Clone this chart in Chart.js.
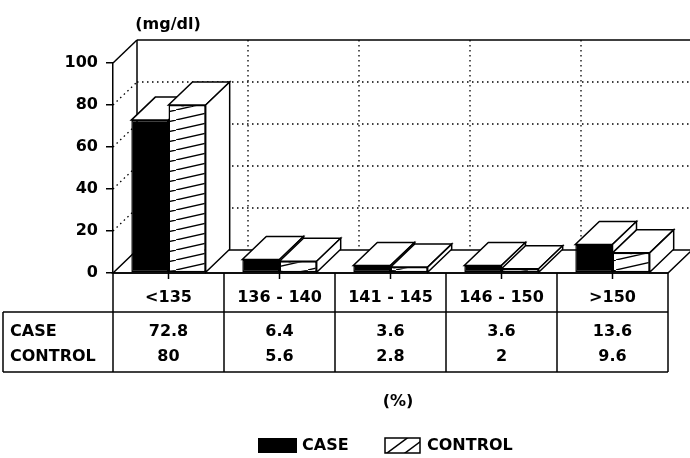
<!DOCTYPE html>
<html>
<head>
<meta charset="utf-8">
<script src="https://cdn.jsdelivr.net/npm/chart.js@4.4.0/dist/chart.umd.min.js"></script>
<style>
  html, body { margin: 0; padding: 0; background: #fff; }
  canvas { display: block; }
</style>
</head>
<body>
<canvas id="myChart" width="690" height="458"></canvas>
<script>
// Data
const categories = ['<135', '136 - 140', '141 - 145', '146 - 150', '>150'];
const caseValues = [72.8, 6.4, 3.6, 3.6, 13.6];
const controlValues = [80, 5.6, 2.8, 2, 9.6];
const seriesNames = ['CASE', 'CONTROL'];
const yTicks = [0, 20, 40, 60, 80, 100];

// 3D depth offset of the walls and boxes
const DX = 24, DY = -23;
const FONT = 'bold 16px "DejaVu Sans"';

const ctx = document.getElementById('myChart').getContext('2d');

// Hatch fill for CONTROL bars
const hatch = (() => {
  const c = document.createElement('canvas');
  c.width = 44; c.height = 10;
  const g = c.getContext('2d');
  g.fillStyle = '#fff';
  g.fillRect(0, 0, 44, 10);
  g.strokeStyle = '#000';
  g.lineWidth = 1.3;
  g.beginPath();
  g.moveTo(0, 10);
  g.lineTo(44, 0);
  g.stroke();
  return ctx.createPattern(c, 'repeat');
})();

function poly(c, pts, fill) {
  c.beginPath();
  c.moveTo(pts[0][0], pts[0][1]);
  for (let i = 1; i < pts.length; i++) c.lineTo(pts[i][0], pts[i][1]);
  c.closePath();
  if (fill) { c.fillStyle = fill; c.fill(); }
  c.stroke();
}

function line(c, x1, y1, x2, y2) {
  c.beginPath();
  c.moveTo(x1, y1);
  c.lineTo(x2, y2);
  c.stroke();
}

// Walls, floor and the top/side faces of every bar
const box3d = {
  id: 'box3d',
  beforeDatasetsDraw(chart) {
    const { ctx: c, chartArea: a, scales: { y } } = chart;
    const catW = (a.right - a.left) / categories.length;
    c.save();
    c.strokeStyle = '#000';
    c.lineWidth = 1.5;

    // floor
    poly(c, [[a.left, a.bottom], [a.right, a.bottom], [a.right + DX, a.bottom + DY], [a.left + DX, a.bottom + DY]], '#fff');

    // back wall + left wall solid edges
    line(c, a.left + DX, a.top + DY, a.right + DX, a.top + DY);
    line(c, a.left + DX, a.top + DY, a.left + DX, a.bottom + DY);
    line(c, a.left, a.top, a.left + DX, a.top + DY);

    // dotted grid
    c.lineWidth = 1.3;
    c.setLineDash([1.5, 3.5]);
    yTicks.forEach(v => {
      if (v === 0 || v === 100) return;
      const py = y.getPixelForValue(v);
      line(c, a.left + DX, py + DY, a.right + DX, py + DY);
      line(c, a.left, py, a.left + DX, py + DY);
    });
    for (let i = 1; i < categories.length; i++) {
      const px = a.left + i * catW + DX;
      line(c, px, a.top + DY, px, a.bottom + DY);
    }
    c.setLineDash([]);
    c.lineWidth = 1.5;

    // boxes: top and right faces, drawn left to right
    const m0 = chart.getDatasetMeta(0).data;
    const m1 = chart.getDatasetMeta(1).data;
    for (let i = 0; i < categories.length; i++) {
      [m0[i], m1[i]].forEach(bar => {
        const x0 = bar.x - bar.width / 2, x1 = bar.x + bar.width / 2;
        const yt = bar.y, yb = bar.base;
        poly(c, [[x0, yt], [x1, yt], [x1 + DX, yt + DY], [x0 + DX, yt + DY]], '#fff');
        poly(c, [[x1, yt], [x1, yb], [x1 + DX, yb + DY], [x1 + DX, yt + DY]], '#fff');
      });
    }
    c.restore();
  },
  afterDraw(chart) {
    const { ctx: c, chartArea: a } = chart;
    const catW = (a.right - a.left) / categories.length;
    const rowTop = a.bottom, rowMid = 312, rowBot = 372, tableLeft = 3;
    c.save();
    c.strokeStyle = '#000';
    c.lineWidth = 1.5;
    c.fillStyle = '#000';
    c.font = FONT;
    c.textBaseline = 'middle';

    // table frame
    line(c, a.left, rowTop, a.right, rowTop);
    line(c, tableLeft, rowMid, a.right, rowMid);
    line(c, tableLeft, rowBot, a.right, rowBot);
    line(c, tableLeft, rowMid, tableLeft, rowBot);
    for (let i = 0; i <= categories.length; i++) {
      const px = a.left + i * catW;
      line(c, px, rowTop, px, rowBot);
    }

    // category ticks and cells
    c.textAlign = 'center';
    categories.forEach((cat, i) => {
      const cx = chart.scales.x.getPixelForValue(i);
      line(c, cx, rowTop, cx, rowTop + 6);
      c.fillText(cat, cx, 298);
      c.fillText(String(caseValues[i]), cx, 332);
      c.fillText(String(controlValues[i]), cx, 357);
    });
    c.textAlign = 'left';
    c.fillText(seriesNames[0], 10, 332);
    c.fillText(seriesNames[1], 10, 357);

    // unit labels
    c.textAlign = 'center';
    c.fillText('(mg/dl)', 168, 25);
    c.fillText('(%)', 398, 402);

    // legend
    c.fillRect(258, 438, 39, 15);
    c.textAlign = 'left';
    c.fillText(seriesNames[0], 302, 446);
    c.fillStyle = '#fff';
    c.fillRect(385, 438, 35, 15);
    c.strokeRect(385, 438, 35, 15);
    c.save();
    c.beginPath();
    c.rect(385, 438, 35, 15);
    c.clip();
    line(c, 383, 456, 410, 436);
    line(c, 401, 456, 428, 436);
    c.restore();
    c.fillStyle = '#000';
    c.fillText(seriesNames[1], 427, 446);
    c.restore();
  }
};

const chart = new Chart(ctx, {
  type: 'bar',
  data: {
    labels: categories,
    datasets: [
      {
        label: seriesNames[0],
        data: caseValues,
        backgroundColor: '#000',
        borderColor: '#000',
        borderWidth: 1.5,
        borderSkipped: false,
        categoryPercentage: 0.67,
        barPercentage: 1,
      },
      {
        label: seriesNames[1],
        data: controlValues,
        backgroundColor: hatch,
        borderColor: '#000',
        borderWidth: 1.5,
        borderSkipped: false,
        categoryPercentage: 0.67,
        barPercentage: 1,
      },
    ],
  },
  options: {
    responsive: false,
    animation: false,
    layout: { padding: { left: 0, top: 63, right: 22, bottom: 185 } },
    plugins: {
      legend: { display: false },
      tooltip: { enabled: false },
    },
    scales: {
      x: { display: false, offset: true },
      y: {
        min: 0,
        max: 100,
        afterFit(scale) { scale.width = 113; },
        afterBuildTicks(scale) { scale.ticks = yTicks.map(v => ({ value: v })); },
        ticks: { padding: 8, color: '#000', font: { family: 'DejaVu Sans', weight: 'bold', size: 16 } },
        grid: { drawOnChartArea: false, tickLength: 7, color: '#000', lineWidth: 1.5 },
        border: { color: '#000', width: 1.5 },
      },
    },
  },
  plugins: [box3d],
});
</script>
</body>
</html>
